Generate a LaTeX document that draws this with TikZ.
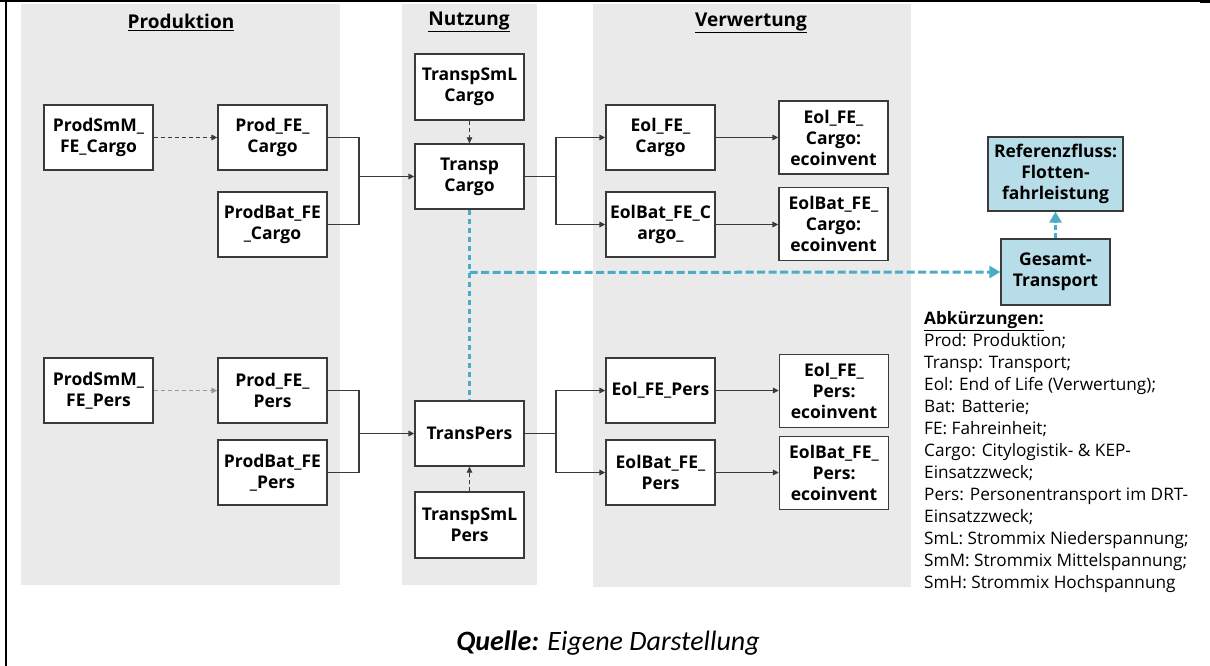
\documentclass[tikz,border=0pt]{standalone}
\usepackage{fontspec}
\setmainfont{Open Sans}
\newfontfamily\capfont{Carlito}
\usetikzlibrary{arrows.meta}
\definecolor{panelgray}{HTML}{EAEAEA}
\definecolor{boxline}{HTML}{3A3A3A}
\definecolor{flowblue}{HTML}{4BACC6}
\definecolor{bluefill}{HTML}{B7DEE8}
\definecolor{lightdash}{HTML}{9A9A9A}
\begin{document}
\begin{tikzpicture}[x=1pt,y=-1pt,
  box/.style={draw=boxline, line width=1.3pt, fill=white, align=center,
    font=\fontsize{17.5}{21}\selectfont\bfseries, inner sep=0pt,
    minimum width=109pt, minimum height=65pt},
  tallbox/.style={box, minimum height=73pt},
  bluebox/.style={box, fill=bluefill},
  title/.style={font=\fontsize{19}{22}\selectfont\bfseries, inner sep=0pt},
  conn/.style={draw=boxline, line width=1.4pt},
  arr/.style={conn, -{Triangle[length=6pt,width=5.5pt]}},
  dasharr/.style={arr, dash pattern=on 4pt off 3pt},
  bluedash/.style={draw=flowblue, line width=3pt, dash pattern=on 8pt off 3.5pt},
  bluearr/.style={bluedash, -{Triangle[length=11pt,width=12pt]}}
]
\useasboundingbox (0,0) rectangle (1210,666);
% frame
\draw[line width=2pt] (5.5,0) -- (5.5,666);
\draw[line width=1.5pt] (0,0.8) -- (1200,0.8);
\fill (1200,0) rectangle (1210,3);
% panels
\fill[panelgray] (21,4) rectangle (340,585);
\fill[panelgray] (402,4) rectangle (537,585);
\fill[panelgray] (593,4) rectangle (911,587);
% titles
\node[title] (tprod) at (181,22) {\underline{Produktion}};
\node[title] (tnutz) at (469,22) {\underline{Nutzung}};
\node[title] (tverw) at (751,23) {\underline{Verwertung}};
% cargo row
\node[box] (psc) at (98.5,137.5) {ProdSmM\_\\FE\_Cargo};
\node[box] (pfc) at (272.5,137.5) {Prod\_FE\_\\Cargo};
\node[box] (pbc) at (272.5,224.5) {ProdBat\_FE\\\_Cargo};
\node[box, minimum height=66pt] (tsc) at (469.5,87) {TranspSmL\\Cargo};
\node[box] (tc) at (469.5,176.5) {Transp\\Cargo};
\node[box] (ec) at (660.5,137.5) {Eol\_FE\_\\Cargo};
\node[box] (ebc) at (660.5,224.5) {EolBat\_FE\_C\\argo\_};
\node[tallbox] (ic1) at (833.5,137.5) {Eol\_FE\_\\Cargo:\\ecoinvent};
\node[tallbox] (ic2) at (833.5,224) {EolBat\_FE\_\\Cargo:\\ecoinvent};
% pers row
\node[box] (psp) at (98.5,390.5) {ProdSmM\_\\FE\_Pers};
\node[box] (pfp) at (272.5,390.5) {Prod\_FE\_\\Pers};
\node[box] (pbp) at (272.5,472.5) {ProdBat\_FE\\\_Pers};
\node[box] (tp) at (469.5,433.5) {TransPers};
\node[box, minimum height=66pt] (tsp) at (469.5,525) {TranspSmL\\Pers};
\node[box] (ep) at (660.5,390.5) {Eol\_FE\_Pers};
\node[box] (ebp) at (660.5,472.5) {EolBat\_FE\_\\Pers};
\node[tallbox] (ip1) at (834,391) {Eol\_FE\_\\Pers:\\ecoinvent};
\node[tallbox] (ip2) at (834,473) {EolBat\_FE\_\\Pers:\\ecoinvent};
% blue
\node[bluebox, minimum width=135pt, minimum height=74pt] (ref) at (1055.5,174) {Referenzfluss:\\Flotten-\\fahrleistung};
\node[bluebox, minimum height=66pt] (ges) at (1055.5,272) {Gesamt-\\Transport};
% coordinates
\coordinate (mc) at (359,176.5);
\coordinate (sc) at (556,176.5);
\coordinate (mp) at (359,433.5);
\coordinate (sp) at (556,433.5);
\coordinate (jn) at (469.5,272.5);
% cargo connectors
\draw[dasharr] (psc.east) -- (pfc.west);
\draw[conn] (pfc.east) -| (mc) |- (pbc.east);
\draw[arr] (mc) -- (tc.west);
\draw[dasharr, line width=0.8pt] (tsc.south) -- (tc.north);
\draw[conn] (tc.east) -- (sc);
\draw[arr] (sc) |- (ec.west);
\draw[arr] (sc) |- (ebc.west);
\draw[arr] (ec.east) -- (ic1.west |- ec.east);
\draw[arr] (ebc.east) -- (ic2.west |- ebc.east);
% pers connectors
\draw[dasharr, draw=lightdash] (psp.east) -- (pfp.west);
\draw[conn] (pfp.east) -| (mp) |- (pbp.east);
\draw[arr] (mp) -- (tp.west);
\draw[dasharr, line width=0.8pt] (tsp.north) -- (tp.south);
\draw[conn] (tp.east) -- (sp);
\draw[arr] (sp) |- (ep.west);
\draw[arr] (sp) |- (ebp.west);
\draw[arr] (ep.east) -- (ip1.west |- ep.east);
\draw[arr] (ebp.east) -- (ip2.west |- ebp.east);
% blue flows
\draw[bluedash, dash pattern=on 5pt off 4pt] (tc.south) -- (tp.north);
\draw[bluearr] (jn) -- (ges.west);
\draw[bluearr, dash pattern=on 5pt off 3pt] (ges.north) -- (ref.south);
% legend
\node[anchor=north west, align=left, inner sep=0pt,
  font=\fontsize{17.2}{22}\selectfont] (leg) at (924,311)
{\textbf{\underline{Abkürzungen:}}\\
Prod: Produktion;\\
Transp: Transport;\\
Eol: End of Life (Verwertung);\\
Bat: Batterie;\\
FE: Fahreinheit;\\
Cargo: Citylogistik- \& KEP-\\
Einsatzzweck;\\
Pers: Personentransport im DRT-\\
Einsatzzweck;\\
SmL: Strommix Niederspannung;\\
SmM: Strommix Mittelspannung;\\
SmH: Strommix Hochspannung};
% caption
\node[font=\capfont\fontsize{28}{32}\selectfont\itshape, inner sep=0pt] (cap) at (608,643) {\textbf{Quelle:} Eigene Darstellung};
\end{tikzpicture}
\end{document}
